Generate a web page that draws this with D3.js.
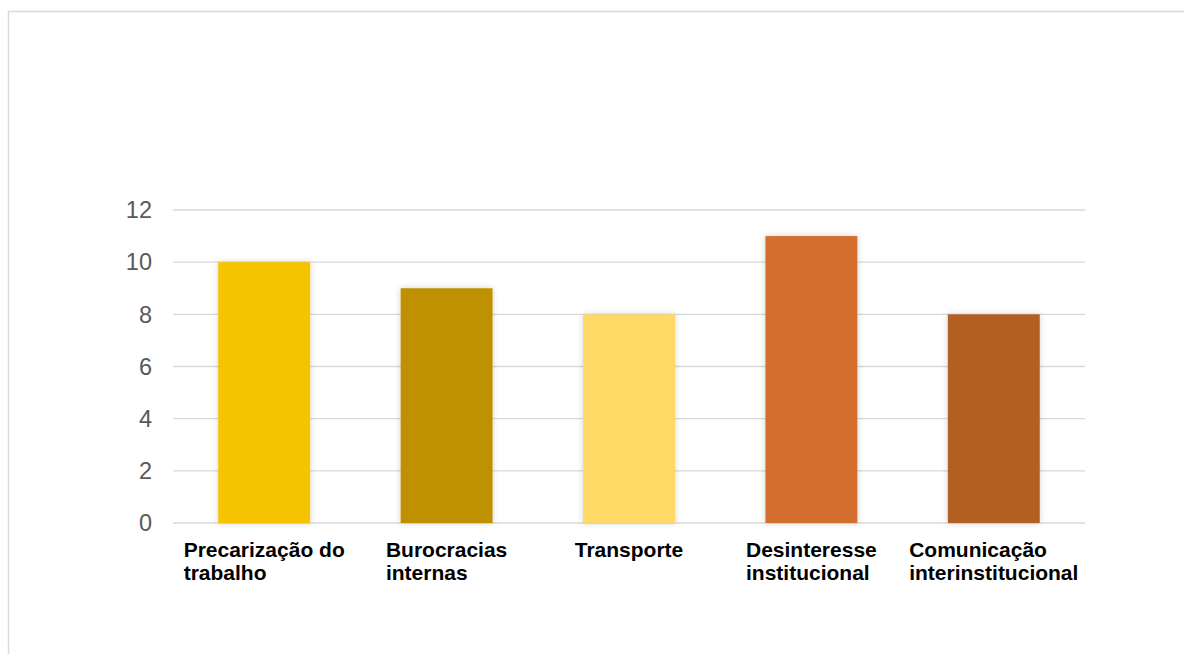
<!DOCTYPE html>
<html><head><meta charset="utf-8">
<script src="https://cdn.jsdelivr.net/npm/d3@7"></script>
<style>body{margin:0;background:#fff}svg{display:block}</style>
</head><body>
<script>
const categories = [["Precarização do","trabalho"],["Burocracias","internas"],["Transporte"],["Desinteresse","institucional"],["Comunicação","interinstitucional"]];
const values = [10, 9, 8, 11, 8];
const colors = ["#F5C306", "#BF9000", "#FFD966", "#D46E2D", "#B45F23"];
const yTicks = [0, 2, 4, 6, 8, 10, 12];

(function(){
const W = 1184, H = 654;
const svg = d3.select("body").append("svg").attr("width", W).attr("height", H);
const defs = svg.append("defs");
const f = defs.append("filter").attr("id","sh").attr("x","-20%").attr("y","-20%").attr("width","140%").attr("height","140%");
f.append("feDropShadow").attr("dx",0).attr("dy",0).attr("stdDeviation",3).attr("flood-color","#000").attr("flood-opacity",0.18);

svg.append("rect").attr("x",8.5).attr("y",11.5).attr("width",1200).attr("height",700)
  .attr("fill","#fff").attr("stroke","#d9d9d9").attr("stroke-width",1.5);

const mL = 173, mR = 1085, mT = 210, mB = 523;
const x = d3.scaleBand().domain(d3.range(values.length)).range([mL, mR]).paddingInner(0.496).paddingOuter(0.248);
const y = d3.scaleLinear().domain([0, 12]).range([mB, mT]);

svg.append("g").selectAll("line").data(yTicks).join("line")
  .attr("x1", mL).attr("x2", mR).attr("y1", d => y(d)).attr("y2", d => y(d))
  .attr("stroke", "#d9d9d9").attr("stroke-width", 1.3);

svg.append("g").selectAll("text").data(yTicks).join("text")
  .attr("x", 152).attr("y", d => y(d) + 8.3).attr("text-anchor","end")
  .attr("font-family","'Liberation Sans', Arial, sans-serif").attr("font-size",23.5).attr("fill","#595959")
  .text(d => d);

svg.append("g").selectAll("rect").data(values).join("rect")
  .attr("x", (d,i) => x(i)).attr("width", x.bandwidth())
  .attr("y", d => y(d)).attr("height", d => y(0) - y(d))
  .attr("fill", (d,i) => colors[i]).attr("filter","url(#sh)");

const lg = svg.append("g").attr("font-family","'Liberation Sans', Arial, sans-serif")
  .attr("font-size",21).attr("font-weight","bold").attr("fill","#000");
categories.forEach((lines, i) => {
  const t = lg.append("text");
  lines.forEach((l, j) => t.append("tspan").attr("y", 556.7 + j*23.5).text(l));
  let maxW = 0;
  t.selectAll("tspan").each(function(){ maxW = Math.max(maxW, this.getComputedTextLength()); });
  const cx = x(i) + x.bandwidth()/2;
  t.selectAll("tspan").attr("x", cx - maxW/2);
});
})();
</script>
</body></html>
